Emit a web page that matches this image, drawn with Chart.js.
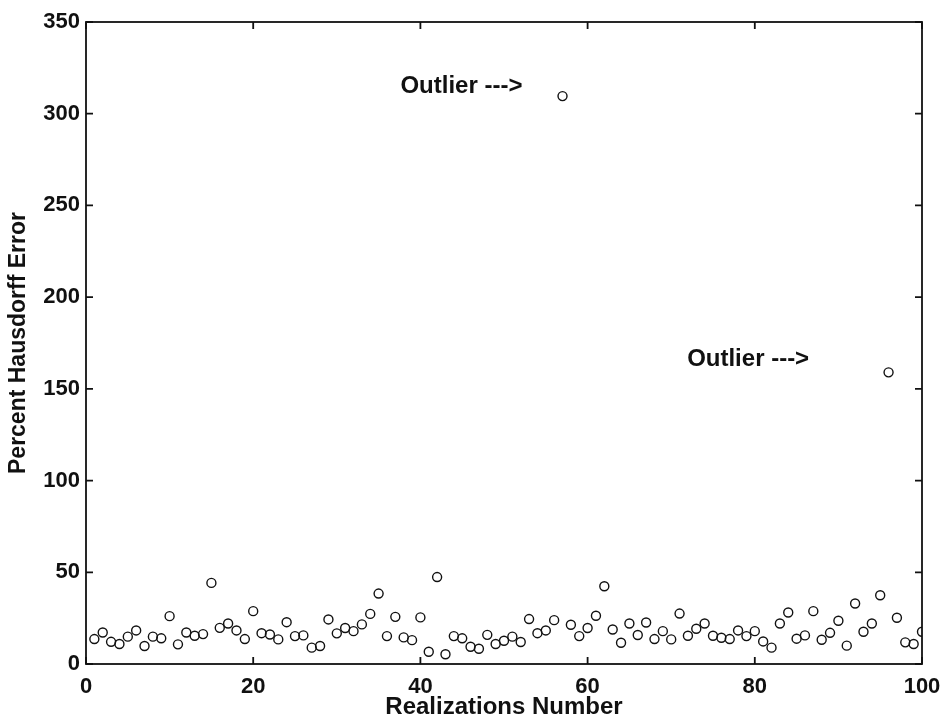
<!DOCTYPE html>
<html>
<head>
<meta charset="utf-8">
<script src="https://cdn.jsdelivr.net/npm/chart.js@4.4.1/dist/chart.umd.min.js"></script>
<style>
  html, body { margin: 0; padding: 0; background: #fff; }
  #wrap { width: 945px; height: 722px; }
</style>
</head>
<body>
<div id="wrap"><canvas id="c" width="945" height="722"></canvas></div>
<script>
const FONT = "'Liberation Sans', Arial, Helvetica, sans-serif";
const INK = '#111';

// realization number (x) and percent Hausdorff error (y)
const realizations = [
  1, 2, 3, 4, 5, 6, 7, 8, 9, 10, 11, 12, 13, 14, 15, 16, 17, 18, 19, 20,
  21, 22, 23, 24, 25, 26, 27, 28, 29, 30, 31, 32, 33, 34, 35, 36, 37, 38, 39, 40,
  41, 42, 43, 44, 45, 46, 47, 48, 49, 50, 51, 52, 53, 54, 55, 56, 57, 58, 59, 60,
  61, 62, 63, 64, 65, 66, 67, 68, 69, 70, 71, 72, 73, 74, 75, 76, 77, 78, 79, 80,
  81, 82, 83, 84, 85, 86, 87, 88, 89, 90, 91, 92, 93, 94, 95, 96, 97, 98, 99, 100
];
const hausdorffError = [
  13.6, 17.2, 12.1, 10.9, 14.9, 18.3, 9.8, 14.9, 14.0, 26.1,
  10.7, 17.2, 15.4, 16.3, 44.2, 19.7, 22.1, 18.3, 13.6, 28.8,
  16.8, 16.1, 13.4, 22.8, 15.2, 15.6, 8.9, 9.8, 24.3, 16.7,
  19.6, 17.9, 21.6, 27.3, 38.4, 15.2, 25.7, 14.5, 13.0, 25.4,
  6.7, 47.4, 5.3, 15.2, 14.0, 9.4, 8.3, 15.9, 10.9, 12.7,
  14.9, 12.0, 24.5, 16.8, 18.3, 23.9, 309.6, 21.4, 15.2, 19.6,
  26.3, 42.4, 18.8, 11.6, 22.1, 15.8, 22.6, 13.6, 17.9, 13.4,
  27.5, 15.4, 19.2, 22.1, 15.4, 14.3, 13.6, 18.3, 15.2, 17.9,
  12.3, 8.9, 22.1, 28.1, 13.8, 15.6, 28.8, 13.2, 17.0, 23.6,
  10.0, 33.0, 17.6, 22.1, 37.5, 159.0, 25.2, 11.8, 10.9, 17.6
];

const xTicks = [0, 20, 40, 60, 80, 100];
const yTicks = [0, 50, 100, 150, 200, 250, 300, 350];

// text notes, anchored by their right end in data units
const noteText = ['Outlier --->', 'Outlier --->'];
const noteX = [52.2, 86.5];
const noteY = [315, 166];

const points = realizations.map((x, i) => ({ x, y: hausdorffError[i] }));

// box frame with inward ticks on all four sides, plus the notes
const framePlugin = {
  id: 'frame',
  afterDraw(chart) {
    const { ctx, chartArea: a, scales: { x, y } } = chart;
    const tl = 7;
    ctx.save();
    ctx.strokeStyle = INK;
    ctx.lineWidth = 1.8;
    ctx.strokeRect(a.left, a.top, a.right - a.left, a.bottom - a.top);
    ctx.beginPath();
    xTicks.forEach(v => {
      const px = x.getPixelForValue(v);
      ctx.moveTo(px, a.bottom); ctx.lineTo(px, a.bottom - tl);
      ctx.moveTo(px, a.top); ctx.lineTo(px, a.top + tl);
    });
    yTicks.forEach(v => {
      const py = y.getPixelForValue(v);
      ctx.moveTo(a.left, py); ctx.lineTo(a.left + tl, py);
      ctx.moveTo(a.right, py); ctx.lineTo(a.right - tl, py);
    });
    ctx.stroke();

    ctx.fillStyle = INK;
    ctx.font = `bold 24px ${FONT}`;
    ctx.textAlign = 'right';
    ctx.textBaseline = 'middle';
    noteText.forEach((t, i) => {
      ctx.fillText(t, x.getPixelForValue(noteX[i]), y.getPixelForValue(noteY[i]));
    });
    ctx.restore();
  }
};

new Chart(document.getElementById('c'), {
  type: 'scatter',
  data: {
    datasets: [{
      data: points,
      pointStyle: 'circle',
      pointRadius: 4.5,
      pointHoverRadius: 4.5,
      borderColor: INK,
      borderWidth: 1.4,
      backgroundColor: 'rgba(0,0,0,0)'
    }]
  },
  options: {
    responsive: false,
    animation: false,
    layout: { padding: { top: 22, right: 23, left: 0, bottom: 0 } },
    plugins: { legend: { display: false }, tooltip: { enabled: false } },
    scales: {
      x: {
        type: 'linear',
        min: 0, max: 100,
        afterBuildTicks: s => { s.ticks = xTicks.map(v => ({ value: v })); },
        afterFit: s => { s.height = 58; s.paddingLeft = 0; s.paddingRight = 0; },
        grid: { display: false, drawTicks: false },
        border: { display: false },
        ticks: { padding: 10, color: INK, font: { family: FONT, size: 22, weight: 'bold' } },
        title: {
          display: true,
          text: 'Realizations Number',
          color: INK,
          font: { family: FONT, size: 24, weight: 'bold' },
          padding: 0
        }
      },
      y: {
        type: 'linear',
        min: 0, max: 350,
        afterBuildTicks: s => { s.ticks = yTicks.map(v => ({ value: v })); },
        afterFit: s => { s.width = 86; s.paddingTop = 0; s.paddingBottom = 0; },
        grid: { display: false, drawTicks: false },
        border: { display: false },
        ticks: { padding: 6, color: INK, font: { family: FONT, size: 22, weight: 'bold' } },
        title: {
          display: true,
          text: 'Percent Hausdorff Error',
          color: INK,
          font: { family: FONT, size: 23, weight: 'bold' },
          padding: { top: 5, bottom: 0 }
        }
      }
    }
  },
  plugins: [framePlugin]
});
</script>
</body>
</html>
